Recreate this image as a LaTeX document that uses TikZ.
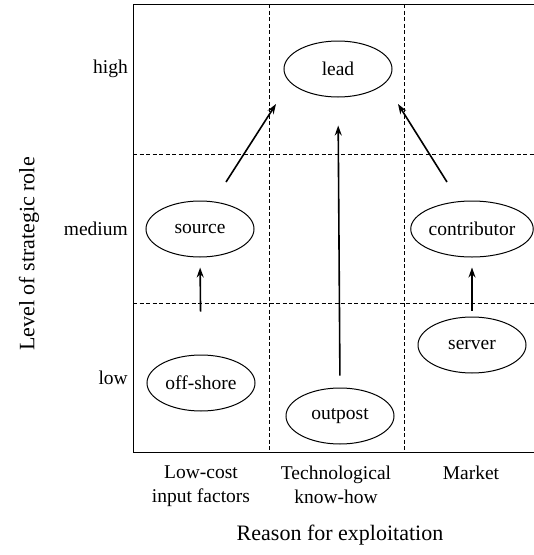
\documentclass[tikz,border=0pt]{standalone}
\usepackage{fontspec}
\setmainfont{Liberation Serif}
\usetikzlibrary{shapes.geometric,arrows.meta}
\begin{document}
\begin{tikzpicture}[x=1pt,y=-1pt,
  role/.style={ellipse,draw,line width=1pt,minimum width=108pt,minimum height=56pt,inner sep=0pt,font=\fontsize{19.5}{23.5}\selectfont},
  grid/.style={dashed,dash pattern=on 4pt off 2.5pt,line width=0.8pt},
  arr/.style={line width=1.6pt,-{Stealth[length=10pt,width=7pt]}},
  lab/.style={font=\fontsize{19.5}{23.5}\selectfont,inner sep=0pt},
  ttl/.style={font=\fontsize{22}{26}\selectfont,inner sep=0pt}]
\useasboundingbox (0,0) rectangle (534,555);
% frame
\draw[line width=1pt] (534,4) -- (133,4) -- (133,452) -- (534,452);
% grid
\draw[grid] (269,4) -- (269,452);
\draw[grid] (404,4) -- (404,452);
\draw[grid] (133,154) -- (534,154);
\draw[grid] (133,303) -- (534,303);
% nodes
\node[role] (lead) at (338,69) {lead};
\node[role] (source) at (200,229) {source};
\node[role] (contrib) at (472,229) {contributor};
\node[role] (offshore) at (201,383) {off-shore};
\node[role] (outpost) at (340,416) {outpost};
\node[role] (server) at (472,345) {server};
% arrows
\draw[arr,shorten <=43pt,shorten >=10pt] (offshore.north) -- (source.south);
\draw[arr,shorten <=6pt,shorten >=10pt] (server.north) -- (contrib.south);
\draw[arr,shorten <=12pt,shorten >=28pt] (outpost.north) -- (lead.south);
\coordinate (s1) at (226,182);
\coordinate (l1) at (276,104);
\coordinate (c1) at (447,182);
\coordinate (l2) at (398,104);
\draw[arr] (s1) -- (l1);
\draw[arr] (c1) -- (l2);
% axis labels
\node[lab,anchor=east] (high) at (128,69) {high};
\node[lab,anchor=east] (medium) at (128,229) {medium};
\node[lab,anchor=east] (low) at (128,378) {low};
\node[ttl,rotate=90] (ylab) at (29,254) {Level of strategic role};
\node[lab,anchor=north,align=center] (c1lab) at (201,466) {Low-cost\\input factors};
\node[lab,anchor=north,align=center] (c2lab) at (336,466) {Technological\\know-how};
\node[lab,anchor=north,align=center] (c3lab) at (471,466) {Market};
\node[ttl,anchor=base] (xlab) at (340,540) {Reason for exploitation};
\end{tikzpicture}
\end{document}
